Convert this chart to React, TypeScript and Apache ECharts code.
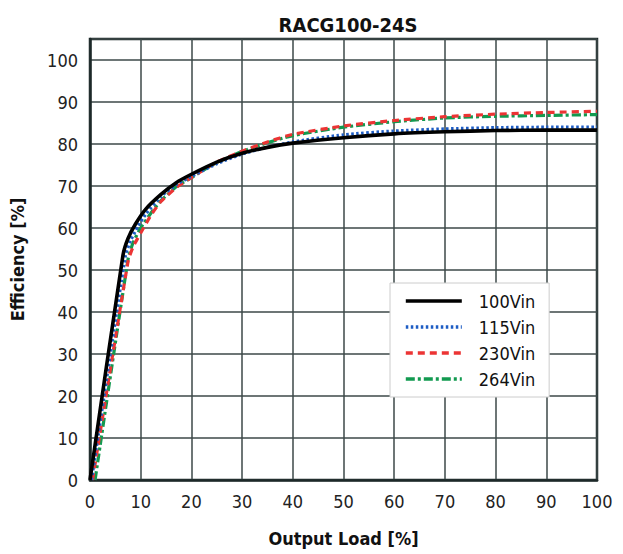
import React, { useEffect, useRef } from "react";
import * as echarts from "echarts";

const titleText = "RACG100-24S";
const xAxisName = "Output Load [%]";
const yAxisName = "Efficiency [%]";

const seriesNames = ["100Vin", "115Vin", "230Vin", "264Vin"];

const load100 = [0, 6.5, 7.5, 9, 11, 14, 17, 20, 25, 30, 35, 40, 50, 60, 70, 80, 90, 100];
const eff100 = [0, 53.5, 57.5, 61, 64.5, 68, 70.8, 72.8, 75.7, 77.8, 79.2, 80.2, 81.5, 82.4, 82.9, 83.2, 83.3, 83.3];

const load115 = [0.3, 7, 8, 9.5, 11, 14, 17, 20, 25, 30, 35, 40, 50, 60, 70, 80, 90, 100];
const eff115 = [0, 53.5, 57, 60.5, 63.3, 67.5, 70.3, 72.3, 75.3, 77.6, 79.2, 80.5, 82.2, 83.1, 83.6, 83.9, 84, 84];

const load230 = [0.5, 7.5, 8.5, 10, 12, 14, 17, 20, 25, 30, 35, 40, 50, 60, 70, 80, 90, 100];
const eff230 = [0, 52, 55.5, 58.8, 63, 66.3, 69.6, 72, 75.7, 78.3, 80.5, 82.3, 84.3, 85.6, 86.5, 87.1, 87.5, 87.8];

const load264 = [1, 7.5, 8.5, 10, 12, 14, 17, 20, 25, 30, 35, 40, 50, 60, 70, 80, 90, 100];
const eff264 = [0, 52.5, 56.5, 60, 63.5, 66.5, 69.8, 72, 75.6, 78.2, 80.3, 82, 84, 85.3, 86.2, 86.6, 86.8, 87];

const FONT = "'Liberation Sans Narrow', 'DejaVu Sans Condensed', 'Roboto', sans-serif";

function pairs(xs: number[], ys: number[]) {
  return xs.map((x, i) => [x, ys[i]]);
}

export default function App() {
  const ref = useRef<HTMLDivElement>(null);
  useEffect(() => {
    if (!ref.current) return;
    const chart = echarts.init(ref.current, undefined, { renderer: "svg" });
    const mk = (name: string, data: number[][], color: string, width: number, type: any) => ({
      name,
      type: "line",
      data,
      showSymbol: false,
      symbol: "none",
      smooth: 0.2,
      lineStyle: { color, width, type },
      itemStyle: { color },
      z: 3,
    });
    chart.setOption({
      animation: false,
      backgroundColor: "#ffffff",
      title: {
        text: titleText,
        left: 343,
        textAlign: "center",
        top: 10,
        textStyle: { fontFamily: FONT, fontSize: 20, fontWeight: "bold", color: "#111" },
      },
      grid: {
        left: 89,
        right: 26,
        top: 39,
        bottom: 74,
        show: true,
        borderColor: "#1c2828",
        borderWidth: 2.5,
        backgroundColor: "#ffffff",
      },
      legend: {
        orient: "vertical",
        left: 390,
        top: 283,
        itemWidth: 56,
        itemHeight: 14,
        itemGap: 8,
        padding: [9, 14, 9, 14],
        backgroundColor: "#ffffff",
        borderColor: "#cccccc",
        borderWidth: 1,
        data: seriesNames,
        itemStyle: { opacity: 0 },
        lineStyle: { width: 3.6 },
        textStyle: { fontFamily: FONT, fontSize: 18, color: "#111", padding: [0, 0, 0, 12] },
      },
      xAxis: {
        type: "value",
        min: 0,
        max: 100,
        interval: 10,
        name: xAxisName,
        nameLocation: "middle",
        nameGap: 49,
        nameTextStyle: { fontFamily: FONT, fontSize: 18, fontWeight: "bold", color: "#111" },
        axisLine: { show: true, lineStyle: { color: "#1c2828", width: 2.5 } },
        axisTick: { show: false },
        axisLabel: { fontFamily: FONT, fontSize: 18, color: "#222", margin: 12 },
        splitLine: { show: true, lineStyle: { color: "#3c4848", width: 1.5 } },
      },
      yAxis: {
        type: "value",
        min: 0,
        max: 105,
        interval: 10,
        name: yAxisName,
        nameLocation: "middle",
        nameGap: 64,
        nameTextStyle: { fontFamily: FONT, fontSize: 18, fontWeight: "bold", color: "#111" },
        axisLine: { show: true, lineStyle: { color: "#1c2828", width: 2.5 } },
        axisTick: { show: false },
        axisLabel: { fontFamily: FONT, fontSize: 18, color: "#222", margin: 12, showMaxLabel: false,
          formatter: (v: number) => (v > 100 ? "" : String(v)) },
        splitLine: { show: true, lineStyle: { color: "#3c4848", width: 1.5 } },
      },
      series: [
        mk(seriesNames[3], pairs(load264, eff264), "#129a50", 3.2, [9, 3, 3, 3]),
        mk(seriesNames[2], pairs(load230, eff230), "#ec3434", 3.2, [7, 5]),
        mk(seriesNames[1], pairs(load115, eff115), "#1d5cc4", 3.2, [2.5, 2.5]),
        mk(seriesNames[0], pairs(load100, eff100), "#000000", 3.6, "solid"),
      ],
    });
    return () => chart.dispose();
  }, []);
  return (
    <div
      ref={ref}
      style={{ position: "fixed", left: 0, top: 0, width: 623, height: 554 }}
    />
  );
}
